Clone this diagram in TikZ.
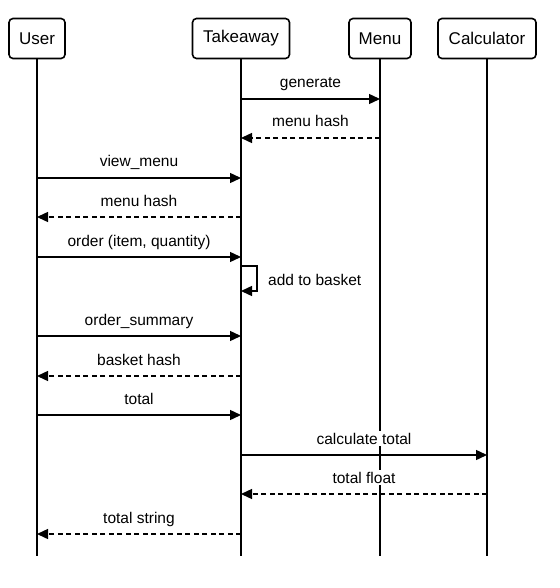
\documentclass[tikz,border=0pt]{standalone}
\usepackage{fontspec}
\setmainfont{Liberation Sans}
\usetikzlibrary{arrows.meta,calc}
\pgfdeclarelayer{bg}
\pgfsetlayers{bg,main}
\begin{document}
\begin{tikzpicture}[x=1pt,y=-1pt,
  actor/.style={draw,line width=1.6pt,rounded corners=4pt,minimum height=40pt,inner sep=0pt,font=\fontsize{17}{20}\selectfont},
  life/.style={line width=1.6pt},
  call/.style={line width=1.4pt,-{Triangle[length=11pt,width=10pt]}},
  ret/.style={call,dash pattern=on 5pt off 3.5pt},
  lbl/.style={font=\fontsize{15.5}{18}\selectfont,inner xsep=2pt,inner ysep=1.5pt,fill=white,draw=none,anchor=base,yshift=11pt},
  slbl/.style={font=\fontsize{15.5}{18}\selectfont,inner sep=0pt}]
\useasboundingbox (0,0) rectangle (559,588);
\node[actor,minimum width=56pt] (user) at (37,38.5) {User};
\node[actor,minimum width=97pt] (tk) at (241,38.5) {Takeaway};
\node[actor,minimum width=62pt] (menu) at (380,38.5) {Menu};
\node[actor,minimum width=98pt] (calc) at (487,38.5) {Calculator};
\coordinate (userE) at (37,556);
\coordinate (tkE) at (241,556);
\coordinate (menuE) at (380,556);
\coordinate (calcE) at (487,556);
\begin{pgfonlayer}{bg}
\draw[life] (user.south) -- (userE);
\draw[life] (tk.south) -- (tkE);
\draw[life] (menu.south) -- (menuE);
\draw[life] (calc.south) -- (calcE);
\end{pgfonlayer}
% message end points
\coordinate (t1) at (241,99);  \coordinate (m1) at (380,99);
\coordinate (t2) at (241,138); \coordinate (m2) at (380,138);
\coordinate (u3) at (37,178);  \coordinate (t3) at (241,178);
\coordinate (u4) at (37,217);  \coordinate (t4) at (241,217);
\coordinate (u5) at (37,257);  \coordinate (t5) at (241,257);
\coordinate (s1) at (241,266); \coordinate (s2) at (257,266);
\coordinate (s3) at (257,291); \coordinate (s4) at (241,291);
\coordinate (u7) at (37,336);  \coordinate (t7) at (241,336);
\coordinate (u8) at (37,376);  \coordinate (t8) at (241,376);
\coordinate (u9) at (37,415);  \coordinate (t9) at (241,415);
\coordinate (t10) at (241,455); \coordinate (c10) at (487,455);
\coordinate (t11) at (241,494); \coordinate (c11) at (487,494);
\coordinate (u12) at (37,534);  \coordinate (t12) at (241,534);
\draw[call] (t1) -- (m1);
\draw[ret] (m2) -- (t2);
\draw[call] (u3) -- (t3);
\draw[ret] (t4) -- (u4);
\draw[call] (u5) -- (t5);
\draw[call] (s1) -- (s2) -- (s3) -- (s4);
\draw[call] (u7) -- (t7);
\draw[ret] (t8) -- (u8);
\draw[call] (u9) -- (t9);
\draw[call] (t10) -- (c10);
\draw[ret] (c11) -- (t11);
\draw[ret] (t12) -- (u12);
\node[lbl] (l1) at ($(t1)!0.5!(m1)$) {generate};
\node[lbl] (l2) at ($(t2)!0.5!(m2)$) {menu hash};
\node[lbl] (l3) at ($(u3)!0.5!(t3)$) {view\_menu};
\node[lbl] (l4) at ($(u4)!0.5!(t4)$) {menu hash};
\node[lbl] (l5) at ($(u5)!0.5!(t5)$) {order (item, quantity)};
\node[slbl,anchor=west] (l6) at (268,280) {add to basket};
\node[lbl] (l7) at ($(u7)!0.5!(t7)$) {order\_summary};
\node[lbl] (l8) at ($(u8)!0.5!(t8)$) {basket hash};
\node[lbl] (l9) at ($(u9)!0.5!(t9)$) {total};
\node[lbl] (l10) at ($(t10)!0.5!(c10)$) {calculate total};
\node[lbl] (l11) at ($(t11)!0.5!(c11)$) {total float};
\node[lbl] (l12) at ($(u12)!0.5!(t12)$) {total string};
\end{tikzpicture}
\end{document}
